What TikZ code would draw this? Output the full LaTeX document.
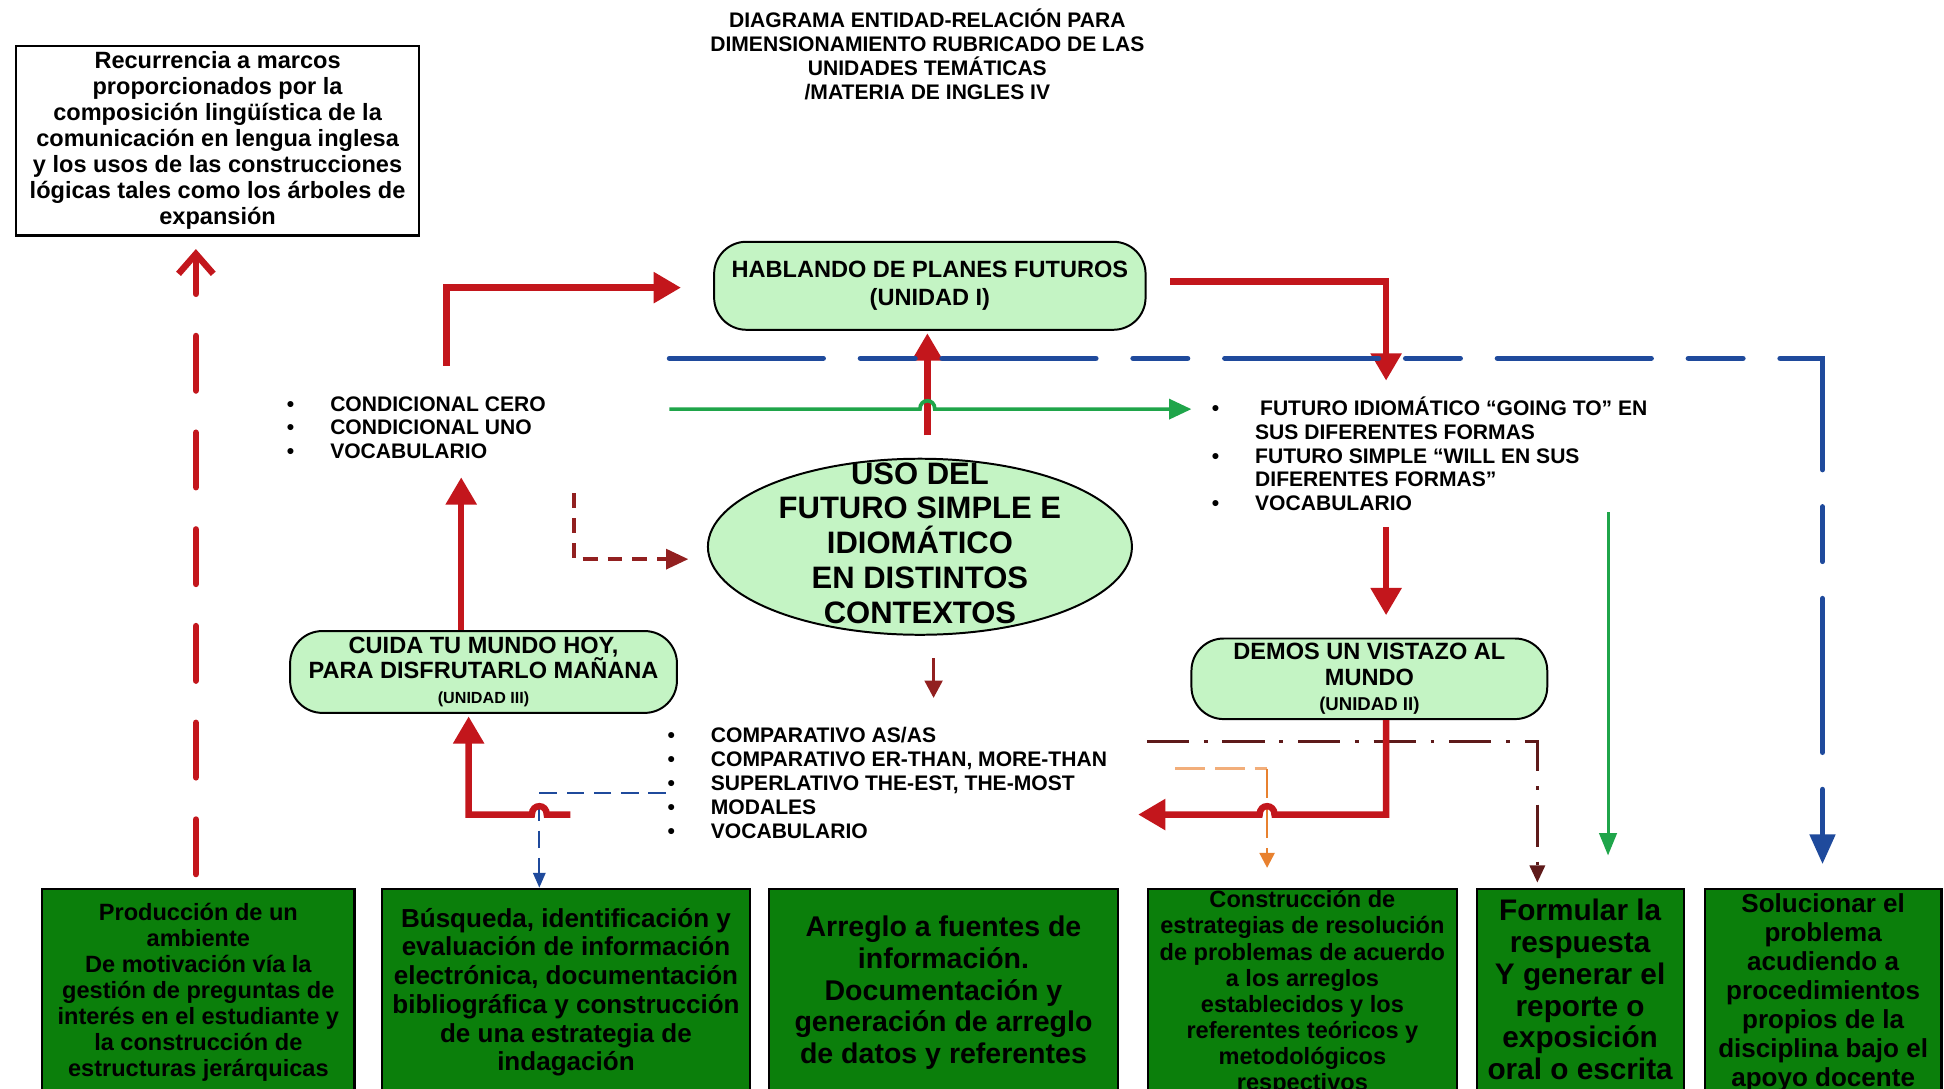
\documentclass[tikz,border=0pt]{standalone}
\usepackage{fontspec}
\setmainfont{Liberation Sans}
\usetikzlibrary{arrows.meta}
\usetikzlibrary{shapes.geometric}
\usetikzlibrary{calc}

\definecolor{rojoflecha}{HTML}{C3161C}
\definecolor{rojooscuro}{HTML}{922020}
\definecolor{azulflecha}{HTML}{1F4A9C}
\definecolor{verdeflecha}{HTML}{1FA54A}
\definecolor{naranjaflecha}{HTML}{E8812F}
\definecolor{naranjaclaro}{HTML}{F2AE7A}
\definecolor{cafeflecha}{HTML}{5E1A1A}
\definecolor{verdeclaro}{HTML}{C4F4C4}
\definecolor{verdeoscuro}{HTML}{0B7F0B}

\newcommand{\fsz}[2]{\fontsize{#1}{#2}\selectfont}
\newcommand{\vin}[1]{\makebox[17.5pt][l]{\textbullet}#1}

\tikzset{
  titulo/.style={align=center, inner sep=0pt, font=\bfseries\fsz{8.5}{9.6}},
  marco/.style={draw, line width=0.9pt, fill=white, align=center, inner sep=0pt,
                minimum width=162.5pt, minimum height=76.5pt, font=\bfseries\fsz{9.5}{10.5}},
  unidad/.style={draw, line width=0.8pt, fill=verdeclaro, rounded corners=13pt,
                 align=center, inner sep=0pt, font=\bfseries\fsz{9.5}{10.5}},
  usoforma/.style={ellipse, draw, line width=0.8pt, fill=verdeclaro, inner sep=0pt,
                   minimum width=171pt, minimum height=71pt},
  usotexto/.style={align=center, inner sep=0pt, font=\bfseries\fsz{12.5}{14}},
  lista/.style={anchor=west, align=left, inner sep=0pt, font=\bfseries\fsz{8.5}{9.6}},
  caja/.style={draw, line width=0.9pt, fill=verdeoscuro, anchor=north, inner sep=0pt,
               minimum height=100pt},
  cajatexto/.style={anchor=north, align=center, inner sep=0pt},
  rojo/.style={draw=rojoflecha, line width=2.6pt, -{Triangle[length=11pt,width=12pt]}},
  rojodisc/.style={draw=rojoflecha, line width=2.6pt, line cap=round,
                   dash pattern=on 22pt off 17pt, -{Straight Barb[length=8pt,width=14pt]}},
  rojooscdisc/.style={draw=rojooscuro, line width=1.5pt, dash pattern=on 6pt off 4pt,
                      -{Triangle[length=9pt,width=8pt]}},
  rojooscflecha/.style={draw=rojooscuro, line width=1.5pt, -{Triangle[length=7pt,width=7pt]}},
  azul/.style={draw=azulflecha, line width=2.2pt, line cap=round,
               dash pattern=on 62pt off 15pt on 22pt off 15pt, -{Triangle[length=12pt,width=10pt]}},
  azulfino/.style={draw=azulflecha, line width=0.8pt, dash pattern=on 7pt off 4pt,
                   -{Triangle[length=6pt,width=5pt]}},
  verde/.style={draw=verdeflecha, line width=1.5pt, -{Triangle[length=9pt,width=8pt]}},
  verdefino/.style={draw=verdeflecha, line width=1.2pt, -{Triangle[length=9pt,width=7pt]}},
  naranja/.style={draw=naranjaflecha, line width=1pt, dash pattern=on 12pt off 4pt,
                  -{Triangle[length=6pt,width=6pt]}},
  cafe/.style={draw=cafeflecha, line width=1.5pt, dash pattern=on 17pt off 6pt on 1.5pt off 6pt,
               -{Triangle[length=7pt,width=6pt]}}
}

\begin{document}
\begin{tikzpicture}[x=0.5pt,y=-0.5pt]
\useasboundingbox (0,0) rectangle (1568,878);
\clip (0,0) rectangle (1568,878);
\fill[white] (0,0) rectangle (1568,878);

\node[titulo] (titulo) at (748,44) {DIAGRAMA ENTIDAD-RELACIÓN PARA\\DIMENSIONAMIENTO RUBRICADO DE LAS\\UNIDADES TEMÁTICAS\\/MATERIA DE INGLES IV};

\node[marco] (marco) at (175.5,113.5) {Recurrencia a marcos\\proporcionados por la\\composición lingüística de la\\comunicación en lengua inglesa\\y los usos de las construcciones\\lógicas tales como los árboles de\\expansión};

\node[unidad, minimum width=174pt, minimum height=35.5pt, font=\bfseries\fsz{9.5}{11}] (hablando) at (750,230.5) {HABLANDO DE PLANES FUTUROS\\(UNIDAD I)};
\node[usoforma] (uso) at (742,441) {};
\node[usotexto] (usotxt) at (742,438) {USO DEL\\FUTURO SIMPLE E\\IDIOMÁTICO\\EN DISTINTOS\\CONTEXTOS};
\node[unidad, minimum width=156pt, minimum height=33pt, font=\bfseries\fsz{9.5}{10}] (cuida) at (390,542) {CUIDA TU MUNDO HOY,\\PARA DISFRUTARLO MAÑANA\\{\fsz{6.5}{10}(UNIDAD III)}};
\node[unidad, minimum width=143.5pt, minimum height=32.5pt, font=\bfseries\fsz{9.5}{10.25}] (demos) at (1104.5,547.5) {DEMOS UN VISTAZO AL\\MUNDO\\{\fsz{7.5}{10.25}(UNIDAD II)}};

\node[lista] (condlist) at (231,345) {\vin{CONDICIONAL CERO}\\\vin{CONDICIONAL UNO}\\\vin{VOCABULARIO}};
\node[lista] (futlist) at (977,366) {\vin{\hspace{2pt}FUTURO IDIOMÁTICO “GOING TO” EN}\\\hspace*{17.5pt}SUS DIFERENTES FORMAS\\\vin{FUTURO SIMPLE “WILL EN SUS}\\\hspace*{17.5pt}DIFERENTES FORMAS”\\\vin{VOCABULARIO}};
\node[lista] (complist) at (538,631.5) {\vin{COMPARATIVO AS/AS}\\\vin{COMPARATIVO ER-THAN, MORE-THAN}\\\vin{SUPERLATIVO THE-EST, THE-MOST}\\\vin{MODALES}\\\vin{VOCABULARIO}};

\node[caja, minimum width=126pt] (b1) at (160,716) {};
\node[cajatexto, font=\bfseries\fsz{9.5}{10.5}] (b1txt) at (160,728) {Producción de un\\ambiente\\De motivación vía la\\gestión de preguntas de\\interés en el estudiante y\\la construcción de\\estructuras jerárquicas};
\node[caja, minimum width=148.5pt] (b2) at (456.5,716) {};
\node[cajatexto, font=\bfseries\fsz{10.5}{11.6}] (b2txt) at (456.5,732) {Búsqueda, identificación y\\evaluación de información\\electrónica, documentación\\bibliográfica y construcción\\de una estrategia de\\indagación};
\node[caja, minimum width=141pt] (b3) at (761,716) {};
\node[cajatexto, font=\bfseries\fsz{11.5}{12.8}] (b3txt) at (761,738.5) {Arreglo a fuentes de\\información.\\Documentación y\\generación de arreglo\\de datos y referentes};
\node[caja, minimum width=124.5pt] (b4) at (1050.5,716) {};
\node[cajatexto, font=\bfseries\fsz{9.5}{10.5}] (b4txt) at (1050.5,718) {Construcción de\\estrategias de resolución\\de problemas de acuerdo\\a los arreglos\\establecidos y los\\referentes teóricos y\\metodológicos\\respectivos};
\node[caja, minimum width=83.5pt] (b5) at (1274.5,716) {};
\node[cajatexto, font=\bfseries\fsz{12}{12.8}] (b5txt) at (1274.5,725) {Formular la\\respuesta\\Y generar el\\reporte o\\exposición\\oral o escrita};
\node[caja, minimum width=95.5pt] (b6) at (1470.5,716) {};
\node[cajatexto, font=\bfseries\fsz{10.5}{11.7}] (b6txt) at (1470.5,720) {Solucionar el\\problema\\acudiendo a\\procedimientos\\propios de la\\disciplina bajo el\\apoyo docente};

\coordinate (condtop) at (360,295);
\coordinate (condbot) at (372,385);
\coordinate (futarriba) at (1118,307);
\coordinate (futdown) at (1118,425);
\coordinate (azulini) at (540,289);
\coordinate (verdeini) at (540,330);
\coordinate (verdebaja) at (1297,413);
\coordinate (discont) at (463,398);
\coordinate (compnorte) at (753,563);
\coordinate (rojoini) at (460,657);
\coordinate (rojogiro) at (1118,657);
\coordinate (rojopunta) at (918,657);
\coordinate (azulfinoini) at (537,640);
\coordinate (naranjaini) at (948,620);
\coordinate (naranjaesq) at (1022,620);
\coordinate (cafeini) at (925,598);

\draw[rojodisc] ($(b1.north)+(-2,-11)$) -- ($(marco.south)+(-17.5,10)$);
\draw[rojo] (condtop) |- ($(hablando.west)+(-26,1.5)$);
\draw[rojo] ($(uso.north)+(6,-18)$) -- ($(hablando.south)+(-2,2)$);
\draw[rojo] ($(hablando.east)+(19,-3.5)$) -| (futarriba);
\draw[azul] (azulini) -- (742,289) .. controls (742,280) and (754,280) .. (754,289)
  -- (1112,289) .. controls (1112,280) and (1124,280) .. (1124,289)
  -- (1470,289) -- ($(b6.north)+(-0.5,-19)$);
\draw[verde] (verdeini) -- (742,330) .. controls (742,321) and (754,321) .. (754,330)
  -- ($(futlist.west)+(-16,-36)$);
\draw[verdefino] (verdebaja) -- ($(b5.north)+(22.5,-26)$);
\draw[rojo] (futdown) -- ($(futdown |- demos.north)+(0,-18)$);
\draw[rojooscdisc] (discont) |- ($(uso.west)+(-15,10)$);
\draw[rojooscflecha] ($(uso.south)+(11,18)$) -- (compnorte);
\draw[rojo] (condbot |- cuida.north) -- (condbot);
\draw[azulfino] (azulfinoini) -| ($(b2.north)+(-21.5,0)$);
\draw[rojo] (rojoini) -- (441,657) .. controls (441,648) and (429,648) .. (429,657)
  -| ($(cuida.south)+(-12,2)$);
\draw[naranjaclaro, line width=1pt, dash pattern=on 12pt off 4pt] (naranjaini) -- (naranjaesq);
\draw[naranja] (naranjaesq) -- ($(b4.north)+(-28.5,-16)$);
\draw[cafe] (cafeini) -| ($(b5.north)+(-34.5,-4)$);
\draw[rojo] (futdown |- demos.south) -- (rojogiro) -- (1028,657)
  .. controls (1028,648) and (1016,648) .. (1016,657) -- (rojopunta);
\end{tikzpicture}
\end{document}
